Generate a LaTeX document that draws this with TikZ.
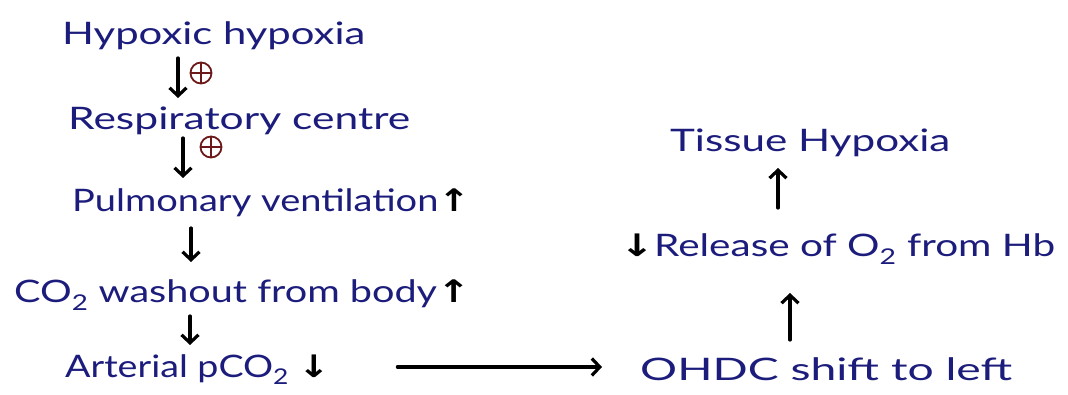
\documentclass[tikz,border=0pt]{standalone}
\usepackage{fontspec}
\setmainfont{Lato}
\newfontfamily\symf{DejaVu Sans}
\usetikzlibrary{arrows.meta,calc}
\definecolor{ink}{RGB}{28,28,125}
\definecolor{plusred}{RGB}{110,25,25}
\newcommand{\fitw}[2]{\resizebox{#1}{\height}{#2}}
\newcommand{\up}{{\symf\bfseries\color{black}↑}}
\newcommand{\dn}{{\symf\bfseries\color{black}↓}}
\begin{document}
\begin{tikzpicture}[x=1pt,y=-1pt,
  txt/.style={anchor=base west,inner sep=0pt,text=ink,font=\fontsize{31}{36}\selectfont},
  arr/.style={-{Straight Barb[length=8pt,width=17pt]},line width=3.2pt,line cap=round},
  plus/.style={circle,draw=plusred,line width=1.8pt,minimum size=21pt,inner sep=0pt}]
\useasboundingbox (0,0) rectangle (1068,395);
\fill[white] (0,0) rectangle (1068,395);
% text nodes
\node[txt] (hh) at (62,45) {\fitw{303pt}{Hypoxic hypoxia}};
\node[txt] (rc) at (68,130) {\fitw{342pt}{Respiratory centre}};
\node[txt] (pv) at (72,212) {\fitw{398pt}{Pulmonary ventilation\up}};
\node[txt] (cw) at (14,303) {\fitw{456pt}{CO\textsubscript{2} washout from body\up}};
\node[txt] (ap) at (65,377) {\fitw{265pt}{Arterial pCO\textsubscript{2} \dn}};
\node[txt] (oh) at (640,380) {\fitw{372pt}{OHDC shift to left}};
\node[txt] (rl) at (620,257) {\fitw{435pt}{\dn Release of O\textsubscript{2} from Hb}};
\node[txt] (th) at (670,152) {\fitw{280pt}{Tissue Hypoxia}};
% x positions of vertical connectors
\coordinate (c1) at (178,0);
\coordinate (c2) at (183,0);
\coordinate (c3) at (191,0);
\coordinate (c4) at (190,0);
\coordinate (c5) at (790,0);
\coordinate (c6) at (778,0);
% connectors
\draw[arr] ($(hh.base -| c1)+(0,13)$) -- ($(rc.base -| c1)+(0,-32)$);
\draw[arr] ($(rc.base -| c2)+(0,8)$) -- ($(pv.base -| c2)+(0,-34)$);
\draw[arr] ($(pv.base -| c3)+(0,16)$) -- ($(cw.base -| c3)+(0,-41)$);
\draw[arr] ($(cw.base -| c4)+(0,13)$) -- ($(ap.base -| c4)+(0,-32)$);
\draw[arr] ($(ap.base east)+(67,-10)$) -- ($(oh.base west)+(-38,-13)$);
\draw[arr] ($(oh.base -| c5)+(0,-40)$) -- ($(rl.base -| c5)+(0,36)$);
\draw[arr] ($(rl.base -| c6)+(0,-49)$) -- ($(th.base -| c6)+(0,16)$);
% plus signs
\node[plus] (p1) at (201,73) {};
\draw[plusred,line width=1.6pt] (p1.north) -- (p1.south) (p1.west) -- (p1.east);
\node[plus] (p2) at (211,147) {};
\draw[plusred,line width=1.6pt] (p2.north) -- (p2.south) (p2.west) -- (p2.east);
\end{tikzpicture}
\end{document}
